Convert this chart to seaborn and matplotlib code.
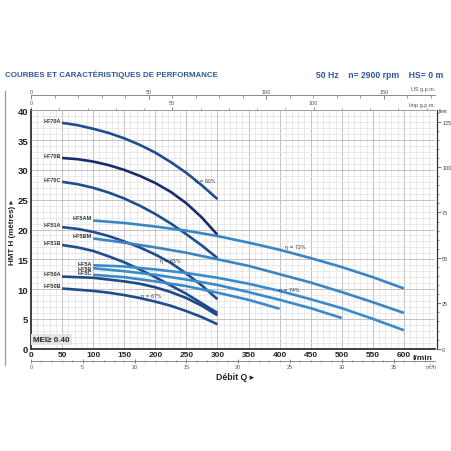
import numpy as np
import pandas as pd
import seaborn as sns
from matplotlib import pyplot as plt
from matplotlib.lines import Line2D
import matplotlib.transforms as mtransforms

# Débit Q (l/min) where the curves were read
q_hf70 = [50, 75, 100, 125, 150, 175, 200, 225, 250, 275, 300]
q_hf5 = [100, 150, 200, 250, 300, 350, 400, 450, 500, 550, 600]

# HMT H (m)
h_hf70a = [37.9, 37.5, 36.9, 36.2, 35.3, 34.2, 32.9, 31.3, 29.5, 27.4, 25.1]
h_hf70b = [32.0, 31.8, 31.4, 30.8, 30.0, 29.0, 27.8, 26.3, 24.4, 22.0, 19.1]
h_hf70c = [28.0, 27.6, 27.0, 26.2, 25.2, 24.0, 22.6, 21.0, 19.2, 17.3, 15.2]
h_hf51a = [20.4, 20.1, 19.6, 18.9, 18.0, 17.0, 15.8, 14.4, 12.6, 10.6, 8.3]
h_hf51b = [17.4, 17.0, 16.4, 15.5, 14.5, 13.3, 12.0, 10.6, 9.2, 7.6, 6.0]
h_hf50a = [12.1, 12.0, 11.9, 11.6, 11.3, 10.9, 10.3, 9.5, 8.5, 7.2, 5.6]
h_hf50b = [10.1, 9.9, 9.7, 9.4, 9.0, 8.5, 7.9, 7.2, 6.3, 5.3, 4.1]
h_hf5am = [21.5, 21.1, 20.5, 19.8, 18.9, 17.8, 16.6, 15.2, 13.7, 12.0, 10.1]
h_hf5bm = [18.5, 17.8, 17.0, 16.1, 15.0, 13.9, 12.5, 11.1, 9.5, 7.8, 6.0]
h_hf5a = [14.0, 13.8, 13.3, 12.7, 11.9, 10.9, 9.7, 8.3, 6.8, 5.0, 3.1]
h_hf5b = [13.5, 13.0, 12.4, 11.6, 10.7, 9.5, 8.2, 6.8, 5.15]
h_hf5c = [12.4, 12.0, 11.3, 10.5, 9.4, 8.2, 6.7]

models = ["HF70A", "HF70B", "HF70C", "HF51A", "HF51B", "HF50A", "HF50B",
          "HF5AM", "HF5BM", "HF5A", "HF5B", "HF5C"]
heads = [h_hf70a, h_hf70b, h_hf70c, h_hf51a, h_hf51b, h_hf50a, h_hf50b,
         h_hf5am, h_hf5bm, h_hf5a, h_hf5b, h_hf5c]
flows = [q_hf70] * 7 + [q_hf5] * 5

dark = "#1f4d8e"
light = "#3b8bcb"
colors = {"HF70A": dark, "HF70B": "#1a2d6b", "HF70C": dark, "HF51A": dark,
          "HF51B": dark, "HF50A": "#1e4886", "HF50B": dark,
          "HF5AM": "#3a86c5", "HF5BM": "#3a86c5", "HF5A": light,
          "HF5B": light, "HF5C": light}

# efficiency notes (text, Q, H)
eta_text = ["η = 60%", "η = 72%", "η = 65%", "η = 67%", "η = 74%"]
eta_q = [280, 425, 224, 194, 416]
eta_h = [28.2, 17.1, 14.8, 9.0, 10.0]

x_ticks = list(range(0, 601, 50))
y_ticks = list(range(0, 41, 5))
feet_ticks = [0, 25, 50, 75, 100, 125]
usgpm_ticks = [0, 50, 100, 150]
impgpm_ticks = [0, 50, 100]
m3h_ticks = [0, 5, 10, 15, 20, 25, 30, 35]

rows = []
for m, qs, hs in zip(models, flows, heads):
    for q, h in zip(qs, hs):
        rows.append({"model": m, "Q": q, "H": h})
df = pd.DataFrame(rows)

sns.set_style("white")
plt.rcParams["font.family"] = ["Liberation Sans", "DejaVu Sans"]

blue = "#2b5797"
txt = "#222222"

fig = plt.figure(figsize=(4.52, 4.52), dpi=100)
ax = fig.add_axes([31 / 452, 1 - 349.7 / 452, 404 / 452, 238.4 / 452])

sns.lineplot(data=df, x="Q", y="H", hue="model", palette=colors, legend=False,
             sort=False, estimator=None, linewidth=1.9, ax=ax,
             solid_capstyle="butt")

ax.set_xlim(0, 650)
ax.set_ylim(0, 40)
ax.set_xticks(x_ticks)
ax.set_xticks(np.arange(0, 651, 10), minor=True)
ax.set_yticks(y_ticks)
ax.set_yticks(np.arange(0, 41, 1), minor=True)
ax.grid(which="major", color="#b8b8b8", linewidth=0.6)
ax.grid(which="minor", color="#dedede", linewidth=0.45)
ax.set_axisbelow(True)
ax.tick_params(which="both", length=0)
ax.tick_params(axis="x", pad=1.5, labelsize=6, labelcolor=txt)
ax.tick_params(axis="y", pad=2, labelsize=6.8, labelcolor=txt)
for lbl in ax.get_xticklabels() + ax.get_yticklabels():
    lbl.set_fontweight("bold")
ax.set_xlabel("")
ax.set_ylabel("")
for s in ["left", "bottom"]:
    ax.spines[s].set_color("#333333")
    ax.spines[s].set_linewidth(1.3)
ax.spines["top"].set_color("#9a9a9a")
ax.spines["top"].set_linewidth(0.6)
ax.spines["right"].set_visible(False)

# curve names, nudged up a little so the stacked ones stay apart
nudge = {"HF5A": 0.25, "HF5B": -0.05, "HF5C": 0.35}
for m, qs, hs in zip(models, flows, heads):
    ax.text(qs[0] - 2, hs[0] + nudge.get(m, 0.45), m, ha="right", va="center",
            fontsize=4.0, fontweight="bold", color="#333333")

for t, q, h in zip(eta_text, eta_q, eta_h):
    ax.text(q, h, t, ha="center", va="center", fontsize=3.4, color="#333333",
            family=["DejaVu Sans"])

ax.text(4, 1.6, "MEI≥ 0.40", fontsize=5.8, fontweight="bold", color=txt,
        va="center", ha="left",
        bbox=dict(boxstyle="square,pad=0.25", facecolor="#e4e4e4",
                  edgecolor="none"))

bt = mtransforms.blended_transform_factory(ax.transData, ax.transAxes)
ax.text(630, -0.022, "l/min", ha="center", va="top", fontsize=6,
        fontweight="bold", color=txt, transform=bt)

# feet axis
sec_ft = ax.secondary_yaxis(1.004, functions=(lambda m: m * 3.28084,
                                              lambda f: f / 3.28084))
sec_ft.set_yticks(feet_ticks)
sec_ft.set_yticks(np.arange(0, 131, 5), minor=True)
sec_ft.tick_params(which="major", length=3, width=0.5, labelsize=4.0,
                   pad=1, colors="#444444")
sec_ft.tick_params(which="minor", length=1.6, width=0.4, colors="#444444")
sec_ft.spines["right"].set_color("#333333")
sec_ft.spines["right"].set_linewidth(0.9)
ax.text(1.01, 1.0, "feet", transform=ax.transAxes, fontsize=3.8,
        color="#444444", ha="left", va="center")

# US g.p.m. axis
sec_us = ax.secondary_xaxis(1.063, functions=(lambda q: q / 3.785,
                                              lambda g: g * 3.785))
sec_us.set_xticks(usgpm_ticks)
sec_us.set_xticks(np.arange(0, 171, 10), minor=True)
sec_us.tick_params(which="major", direction="in", length=3, width=0.5,
                   labelsize=4, pad=1, colors="#555555")
sec_us.tick_params(which="minor", direction="in", length=2, width=0.4,
                   colors="#555555")
sec_us.spines["top"].set_color("#777777")
sec_us.spines["top"].set_linewidth(0.6)
ax.text(1.0, 1.08, "US g.p.m.", transform=ax.transAxes, fontsize=4,
        color="#555555", ha="right", va="bottom")

# Imp g.p.m. axis
sec_imp = ax.secondary_xaxis("top", functions=(lambda q: q / 4.546,
                                               lambda g: g * 4.546))
sec_imp.set_xticks(impgpm_ticks)
sec_imp.set_xticks(np.arange(0, 141, 10), minor=True)
sec_imp.tick_params(which="major", direction="out", length=2.5, width=0.5,
                    labelsize=4, pad=1, colors="#555555")
sec_imp.tick_params(which="minor", direction="out", length=1.6, width=0.4,
                    colors="#555555")
sec_imp.spines["top"].set_visible(False)
ax.text(1.0, 1.012, "Imp g.p.m.", transform=ax.transAxes, fontsize=4,
        color="#555555", ha="right", va="bottom")

# m3/h axis
sec_m3 = ax.secondary_xaxis(-0.052, functions=(lambda q: q / 16.667,
                                               lambda v: v * 16.667))
sec_m3.set_xticks(m3h_ticks)
sec_m3.set_xticks(np.arange(0, 40, 1), minor=True)
sec_m3.tick_params(which="major", direction="inout", length=3.5, width=0.5,
                   labelsize=4, pad=0.5, colors="#555555")
sec_m3.tick_params(which="minor", direction="inout", length=2, width=0.4,
                   colors="#555555")
sec_m3.spines["bottom"].set_color("#777777")
sec_m3.spines["bottom"].set_linewidth(0.6)
ax.text(0.99, -0.066, "m³/h", transform=ax.transAxes, fontsize=4,
        color="#555555", ha="center", va="top")

# frame pieces outside the axes
fig.add_artist(Line2D([5.5 / 452, 5.5 / 452], [1 - 92 / 452, 1 - 366 / 452],
                      color="#999999", linewidth=0.9))

fig.text(13 / 452, 1 - 232 / 452, "HMT H (mètres) ▸", rotation=90,
         ha="center", va="center", fontsize=5.8, fontweight="bold", color=txt,
         family=["Liberation Sans", "DejaVu Sans"])
fig.text(235 / 452, 1 - 378 / 452, "Débit Q ▸", ha="center", va="center",
         fontsize=6.3, fontweight="bold", color=txt,
         family=["Liberation Sans", "DejaVu Sans"])

fig.text(5 / 452, 1 - 75 / 452, "COURBES ET CARACTÉRISTIQUES DE PERFORMANCE",
         ha="left", va="center", fontsize=5.7, fontweight="bold", color=blue)
fig.text(443 / 452, 1 - 75 / 452, "50 Hz    n= 2900 rpm    HS= 0 m",
         ha="right", va="center", fontsize=6.2, fontweight="bold", color=blue)

fig.savefig("out.png", dpi=100, facecolor="white")
